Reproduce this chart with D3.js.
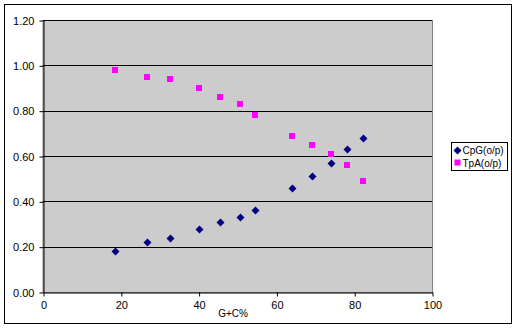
<!DOCTYPE html>
<html>
<head>
<meta charset="utf-8">
<script src="https://cdn.jsdelivr.net/npm/d3@7"></script>
<style>
  body { margin: 0; background: #fff; }
  text { font-family: Arial, "Liberation Sans", sans-serif; }
</style>
</head>
<body>
<div id="chart"></div>
<script>
var gcContent = [18.5, 26.7, 32.6, 40.0, 45.4, 50.6, 54.6, 64.0, 69.2, 74.1, 78.2, 82.3];
var cpgValues = [0.18, 0.22, 0.24, 0.28, 0.31, 0.33, 0.36, 0.46, 0.51, 0.57, 0.63, 0.68];
var tpaValues = [0.98, 0.95, 0.94, 0.90, 0.86, 0.83, 0.78, 0.69, 0.65, 0.61, 0.56, 0.49];
var xTicks = [0, 20, 40, 60, 80, 100];
var yTicks = [0, 0.2, 0.4, 0.6, 0.8, 1.0, 1.2];
var seriesNames = ["CpG(o/p)", "TpA(o/p)"];

var W = 517, H = 328;
var plot = {left: 43, top: 20, right: 432, bottom: 292};

var svg = d3.select("#chart").append("svg")
    .attr("width", W).attr("height", H);

// outer chart border
svg.append("rect")
    .attr("x", 4.5).attr("y", 4.5)
    .attr("width", 507).attr("height", 319)
    .attr("fill", "#fff").attr("stroke", "#000");

var xScale = d3.scaleLinear().domain([0, 100]).range([plot.left, plot.right]);
var yScale = d3.scaleLinear().domain([0, 1.2]).range([plot.bottom, plot.top]);

// plot area
svg.append("rect")
    .attr("x", plot.left).attr("y", plot.top + 0.5)
    .attr("width", plot.right - plot.left + 0.5).attr("height", plot.bottom - plot.top)
    .attr("fill", "#cccccc")
    .attr("stroke", "#808080");

// gridlines
svg.append("g").selectAll("line")
    .data(yTicks.filter(d => d > 0))
    .enter().append("line")
        .attr("x1", plot.left).attr("x2", plot.right)
        .attr("y1", d => Math.round(yScale(d)) + 0.5)
        .attr("y2", d => Math.round(yScale(d)) + 0.5)
        .attr("stroke", "#000");

var yAxis = d3.axisLeft(yScale).tickValues(yTicks).tickSize(4).tickSizeOuter(0)
    .tickFormat(d3.format(".2f"));
var xAxis = d3.axisBottom(xScale).tickValues(xTicks).tickSize(4).tickSizeOuter(0)
    .tickFormat(d3.format("d"));

var gy = svg.append("g").attr("transform", "translate(43.5,0.5)").call(yAxis);
var gx = svg.append("g").attr("transform", "translate(0.5,292.5)").call(xAxis);

[gy, gx].forEach(function(g) {
    g.select(".domain").attr("stroke", "#000");
    g.selectAll(".tick line").attr("stroke", "#000");
    g.selectAll(".tick text").attr("fill", "#000")
        .style("font-size", "11px").style("font-family", "Arial, 'Liberation Sans', sans-serif");
});
gy.selectAll(".tick text").attr("x", -9);
gx.selectAll(".tick text").attr("y", 9);

// axis title
svg.append("text")
    .attr("x", 233).attr("y", 317)
    .attr("text-anchor", "middle")
    .style("font-size", "10px")
    .text("G+C%");

// square diamond marker, like the spreadsheet one
var diamondPath = "M0,-4L4,0L0,4L-4,0Z";

svg.append("g").selectAll("path")
    .data(gcContent.map((g, i) => [g, cpgValues[i]]))
    .enter().append("path")
        .attr("d", diamondPath)
        .attr("transform", d => "translate(" + (Math.round(xScale(d[0])) + 0.5) + "," + (Math.round(yScale(d[1])) + 0.5) + ")")
        .attr("fill", "#000080");

svg.append("g").selectAll("rect")
    .data(gcContent.map((g, i) => [g, tpaValues[i]]))
    .enter().append("rect")
        .attr("x", d => Math.round(xScale(d[0])) - 3)
        .attr("y", d => Math.round(yScale(d[1])) - 3)
        .attr("width", 6).attr("height", 6)
        .attr("fill", "#ff00ff");

// legend
var legend = svg.append("g").attr("transform", "translate(451.5,142.5)");
legend.append("rect")
    .attr("width", 56).attr("height", 28)
    .attr("fill", "#fff").attr("stroke", "#000");
legend.append("path")
    .attr("d", diamondPath)
    .attr("transform", "translate(6,8)")
    .attr("fill", "#000080");
legend.append("rect")
    .attr("x", 3).attr("y", 17).attr("width", 6).attr("height", 6)
    .attr("fill", "#ff00ff");
legend.selectAll("text")
    .data(seriesNames)
    .enter().append("text")
        .attr("x", 11).attr("y", (d, i) => 11.5 + i * 13)
        .style("font-size", "10px")
        .text(d => d);
</script>
</body>
</html>
